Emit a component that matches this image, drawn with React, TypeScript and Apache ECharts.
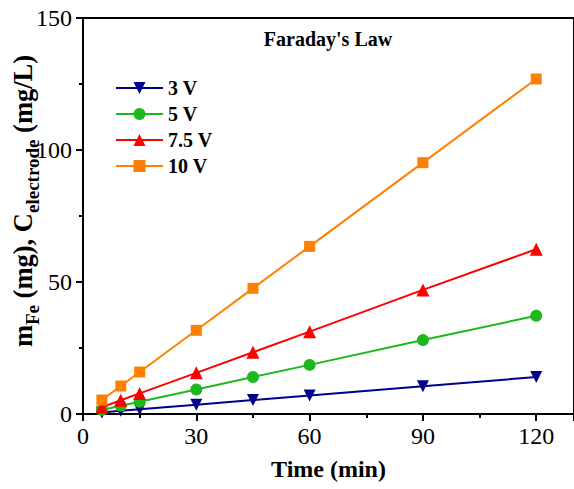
import React, { useEffect, useRef } from "react";
import * as echarts from "echarts";

const times = [5, 10, 15, 30, 45, 60, 90, 120];
const seriesNames = ["3 V", "5 V", "7.5 V", "10 V"];
const v3 = [0.6, 1.2, 1.8, 3.5, 5.3, 7.0, 10.5, 14.0];
const v5 = [1.55, 3.1, 4.65, 9.3, 14.0, 18.6, 28.0, 37.2];
const v75 = [2.6, 5.2, 7.8, 15.6, 23.4, 31.2, 47.0, 62.4];
const v10 = [5.3, 10.6, 15.9, 31.7, 47.6, 63.5, 95.2, 126.9];
const xTicks = [0, 30, 60, 90, 120];
const yTicks = [0, 50, 100, 150];

const FONT = "'Liberation Serif', 'Times New Roman', serif";

export default function App() {
  const ref = useRef<HTMLDivElement>(null);
  useEffect(() => {
    if (!ref.current) return;
    const chart = echarts.init(ref.current, null, { renderer: "svg" });
    const colors = ["#00008B", "#1DB81D", "#FF0000", "#FF8000"];
    const symbols = ["triangle", "circle", "triangle", "rect"];
    const rotates = [180, 0, 0, 0];
    const sizes = [12, 12, 13, 11];
    const data = [v3, v5, v75, v10];
    chart.setOption({
      animation: false,
      backgroundColor: "#fff",
      textStyle: { fontFamily: FONT },
      title: {
        text: "Faraday's Law",
        left: 328,
        top: 29,
        textAlign: "center",
        padding: 0,
        textStyle: { fontFamily: FONT, fontWeight: "bold", fontSize: 20, color: "#000" },
      },
      legend: {
        orient: "vertical",
        left: 115,
        top: 78,
        padding: 0,
        itemWidth: 47,
        itemHeight: 15,
        itemGap: 6,
        data: seriesNames,
        textStyle: { fontFamily: FONT, fontWeight: "bold", fontSize: 20, color: "#000", lineHeight: 20 },
      },
      graphic: [
        {
          type: "text",
          x: 24,
          y: 201,
          rotation: Math.PI / 2,
          style: {
            text: "{b|m}{s|Fe}{b| (mg), C}{s|electrode}{b| (mg/L)}",
            align: "center",
            verticalAlign: "middle",
            rich: {
              b: { fontFamily: FONT, fontWeight: "bold", fontSize: 26.5, fill: "#000", verticalAlign: "top", lineHeight: 30 },
              s: { fontFamily: FONT, fontWeight: "bold", fontSize: 19, fill: "#000", verticalAlign: "top", lineHeight: 20, padding: [14, 0, 0, 0] },
            },
          },
        },
      ],
      grid: {
        left: 83,
        right: -3,
        top: 18,
        bottom: 75,
        show: true,
        borderColor: "#000",
        borderWidth: 2,
      },
      xAxis: {
        type: "value",
        min: 0,
        max: 130,
        interval: 30,
        name: "Time (min)",
        nameLocation: "middle",
        nameGap: 43,
        nameTextStyle: { fontFamily: FONT, fontWeight: "bold", fontSize: 24, color: "#000" },
        axisLine: { lineStyle: { color: "#000", width: 2 } },
        axisTick: { inside: false, length: 7, lineStyle: { color: "#000", width: 2 } },
        minorTick: { show: true, splitNumber: 2, length: 4, lineStyle: { color: "#000", width: 2 } },
        splitLine: { show: false },
        axisLabel: {
          fontFamily: FONT,
          fontSize: 24,
          color: "#000",
          margin: 10,
          showMaxLabel: false,
          formatter: (v: number) => (xTicks.includes(v) ? String(v) : ""),
        },
      },
      yAxis: {
        type: "value",
        min: 0,
        max: 150,
        interval: 50,
        axisLine: { lineStyle: { color: "#000", width: 2 } },
        axisTick: { inside: false, length: 7, lineStyle: { color: "#000", width: 2 } },
        minorTick: { show: true, splitNumber: 2, length: 4, lineStyle: { color: "#000", width: 2 } },
        splitLine: { show: false },
        axisLabel: {
          fontFamily: FONT,
          fontSize: 24,
          color: "#000",
          margin: 11,
          formatter: (v: number) => (yTicks.includes(v) ? String(v) : ""),
        },
      },
      series: seriesNames.map((name, i) => ({
        name,
        type: "line",
        data: times.map((t, j) => [t, data[i][j]]),
        color: colors[i],
        symbol: symbols[i],
        symbolRotate: rotates[i],
        symbolSize: sizes[i],
        showSymbol: true,
        lineStyle: { width: 2, color: colors[i] },
        itemStyle: { color: colors[i] },
        z: 2 + i,
      })),
    });
    return () => chart.dispose();
  }, []);
  return (
    <div
      ref={ref}
      style={{ position: "absolute", left: 0, top: 0, width: 574, height: 489 }}
    />
  );
}
